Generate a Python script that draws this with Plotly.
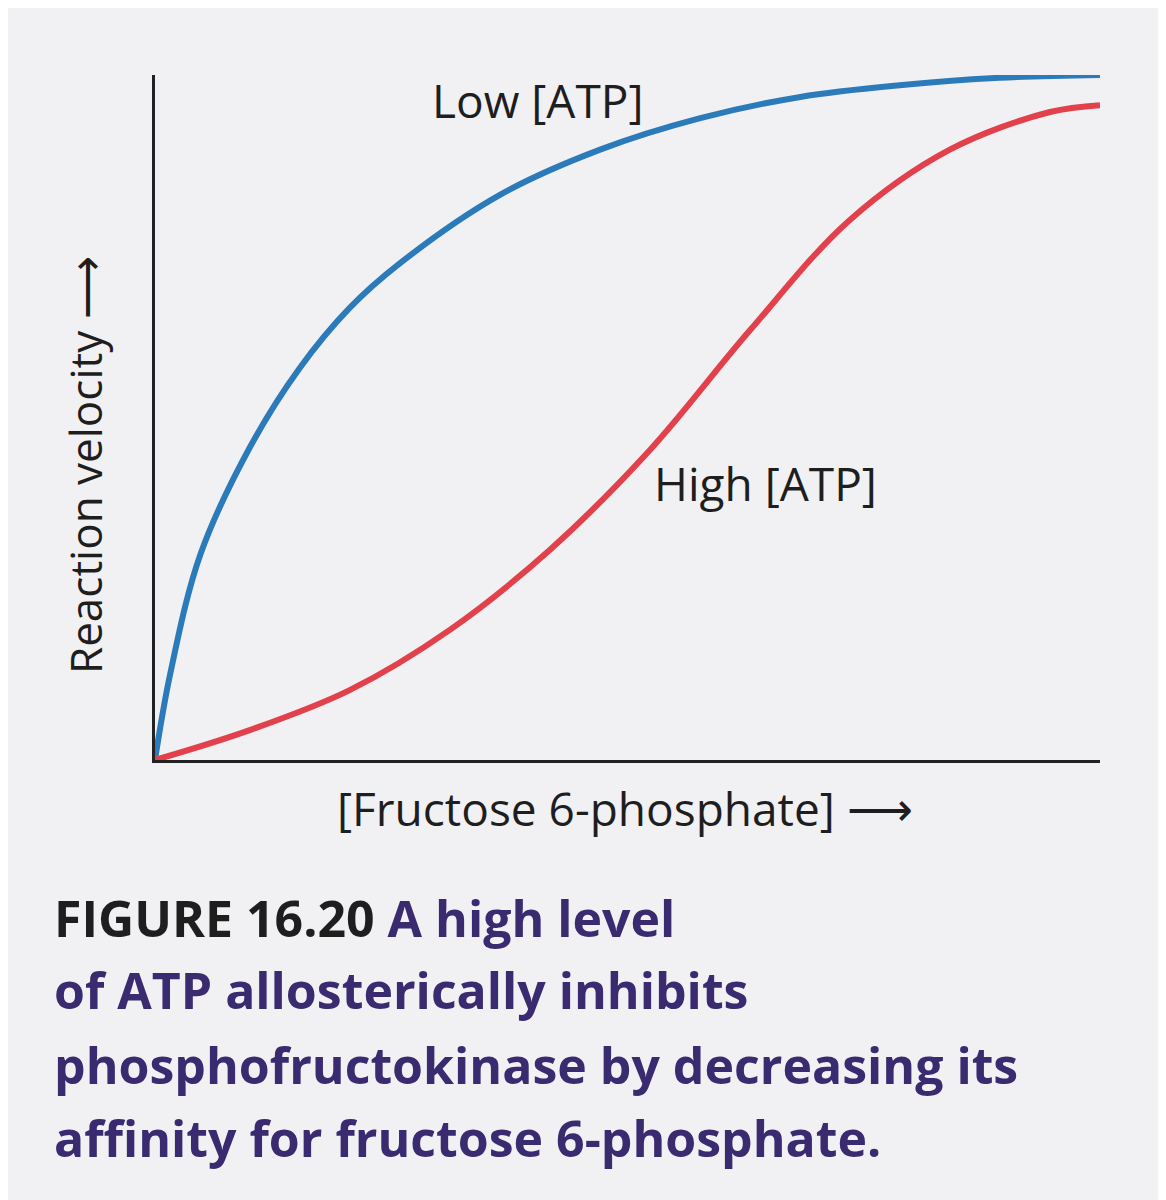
import plotly.graph_objects as go

low_x = [0, .016, .048, .101, .153, .206, .259, .365, .471, .577, .683, .788, .894, 1.0]
low_v = [0, .125, .300, .458, .572, .660, .725, .825, .891, .937, .968, .985, .996, 1.0]
high_x = [0, .101, .206, .312, .418, .524, .630, .735, .841, .947, 1.0]
high_v = [0, .044, .102, .190, .307, .453, .628, .788, .891, .946, .956]

W, H = 1166, 1200
OFF = 8
L, R, T, B = 155 - OFF, 66 + OFF, 75 - OFF, 440 + OFF
def px(x): return (x - OFF - L) / (W - L - R)
def py(y): return (H - B - (y - OFF)) / (H - T - B)

fig = go.Figure()
fig.add_trace(go.Scatter(x=low_x, y=low_v, mode="lines", line=dict(color="#2b7bbb", width=6, shape="spline")))
fig.add_trace(go.Scatter(x=high_x, y=high_v, mode="lines", line=dict(color="#e2414c", width=6, shape="spline")))

F = "Open Sans, sans-serif"
ann = []
def A(text, x, y, size=46, color="#1e1e1e", xanchor="center", angle=0):
    ann.append(dict(text=text, x=px(x), y=py(y), xref="paper", yref="paper", showarrow=False,
                    xanchor=xanchor, yanchor="middle", textangle=angle,
                    font=dict(family=F, size=size, color=color)))
A("Low [ATP]", 537, 100)
A("High [ATP]", 765, 483)
A("Reaction velocity ⟶", 85, 465, size=44, angle=-90)
A("[Fructose 6-phosphate] ⟶", 625, 808, size=46)
P = "#3a2a70"
S = 50
A("<b><span style='color:#1e1e1e'>FIGURE 16.20</span> A high level</b>", 52, 918, size=S, color=P, xanchor="left")
A("<b>of ATP allosterically inhibits</b>", 52, 990, size=S, color=P, xanchor="left")
A("<b>phosphofructokinase by decreasing its</b>", 52, 1065, size=S, color=P, xanchor="left")
A("<b>affinity for fructose 6-phosphate.</b>", 52, 1138, size=S, color=P, xanchor="left")

fig.update_layout(width=W, height=H, margin=dict(l=L, r=R, t=T, b=B),
                  paper_bgcolor="#f1f1f3", plot_bgcolor="#f1f1f3", showlegend=False,
                  annotations=ann,
                  xaxis=dict(range=[0, 1], showline=True, linecolor="#222", linewidth=3, showgrid=False,
                             zeroline=False, showticklabels=False, ticks=""),
                  yaxis=dict(range=[0, 1], showline=True, linecolor="#222", linewidth=3, showgrid=False,
                             zeroline=False, showticklabels=False, ticks=""))
fig.write_html("out.html", config={"responsive": False})
